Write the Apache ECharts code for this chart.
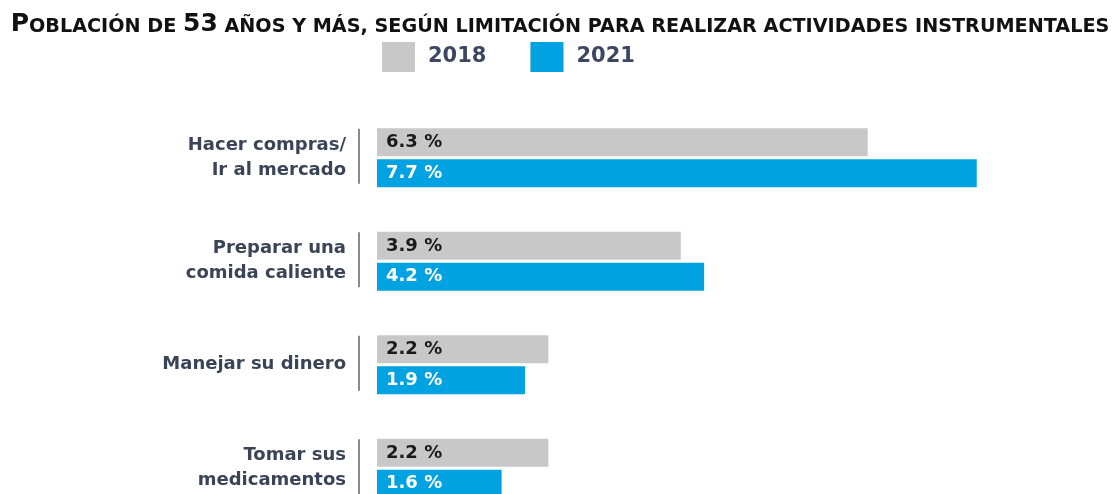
<!DOCTYPE html>
<html>
<head>
<meta charset="utf-8">
<script src="https://cdn.jsdelivr.net/npm/echarts@6/dist/echarts.min.js"></script>
<style>
  html, body { margin: 0; padding: 0; background: #fff; overflow: hidden; }
  /* taller than the window: the last group runs past the bottom edge */
  #chart { width: 1120px; height: 520px; }
</style>
</head>
<body>
<div id="chart"></div>
<script>
var categories = ['Hacer compras/\nIr al mercado', 'Preparar una\ncomida caliente', 'Manejar su dinero', 'Tomar sus\nmedicamentos']
var seriesNames = ['2018', '2021']
var values2018 = [6.3, 3.9, 2.2, 2.2]
var values2021 = [7.7, 4.2, 1.9, 1.6]

var chart = echarts.init(document.getElementById('chart'))

var labelFont = 'DejaVu Sans'

chart.setOption({
  animation: false,
  title: {
    text: '{big|P}{small|OBLACIÓN DE }{big|53}{small| AÑOS Y MÁS, SEGÚN LIMITACIÓN PARA REALIZAR ACTIVIDADES INSTRUMENTALES}',
    left: 'center',
    top: 12,
    padding: 0,
    textStyle: {
      rich: {
        big: { fontFamily: 'DejaVu Sans', fontWeight: 'bold', fontSize: 25, color: '#111', verticalAlign: 'bottom' },
        small: { fontFamily: 'DejaVu Sans', fontWeight: 'bold', fontSize: 19.2, color: '#111', verticalAlign: 'bottom' }
      }
    }
  },
  legend: {
    data: seriesNames,
    left: 382,
    top: 42,
    padding: 0,
    itemWidth: 33,
    itemHeight: 30,
    itemGap: 44,
    icon: 'rect',
    textStyle: {
      fontFamily: labelFont,
      fontWeight: 'bold',
      fontSize: 21,
      color: '#3d4761',
      padding: [0, 0, 0, 8]
    }
  },
  grid: {
    left: 377,
    right: 42,
    top: 106,
    bottom: 0,
    outerBoundsMode: 'none'
  },
  xAxis: {
    type: 'value',
    min: 0,
    max: 9,
    show: false
  },
  yAxis: {
    type: 'category',
    data: categories,
    inverse: true,
    axisLine: { show: false },
    axisTick: { show: false },
    splitLine: { show: false },
    axisLabel: {
      margin: 31,
      fontFamily: labelFont,
      fontWeight: 'bold',
      fontSize: 18,
      lineHeight: 25,
      color: '#3b4357',
      align: 'right'
    }
  },
  series: [
    {
      name: '2018',
      type: 'bar',
      data: values2018,
      barWidth: 28,
      barGap: '10%',
      itemStyle: { color: '#c8c8c8' },
      label: {
        show: true,
        position: 'insideLeft',
        distance: 9,
        formatter: function (p) { return p.value.toFixed(1) + ' %' },
        fontFamily: labelFont,
        fontWeight: 'bold',
        fontSize: 18,
        color: '#1a1a1a'
      }
    },
    {
      name: '2021',
      type: 'bar',
      data: values2021,
      barWidth: 28,
      barGap: '10%',
      itemStyle: { color: '#00a2e1' },
      label: {
        show: true,
        position: 'insideLeft',
        distance: 9,
        formatter: function (p) { return p.value.toFixed(1) + ' %' },
        fontFamily: labelFont,
        fontWeight: 'bold',
        fontSize: 18,
        color: '#fff'
      }
    },
    {
      // vertical separator next to each category label
      type: 'custom',
      silent: true,
      clip: false,
      data: categories.map(function (c, i) { return [0, i] }),
      renderItem: function (params, api) {
        var p = api.coord([api.value(0), api.value(1)])
        return {
          type: 'line',
          shape: { x1: p[0] - 18, y1: p[1] - 29, x2: p[0] - 18, y2: p[1] + 26 },
          style: { stroke: '#8a8a8a', lineWidth: 2 }
        }
      }
    }
  ]
})
</script>
</body>
</html>
